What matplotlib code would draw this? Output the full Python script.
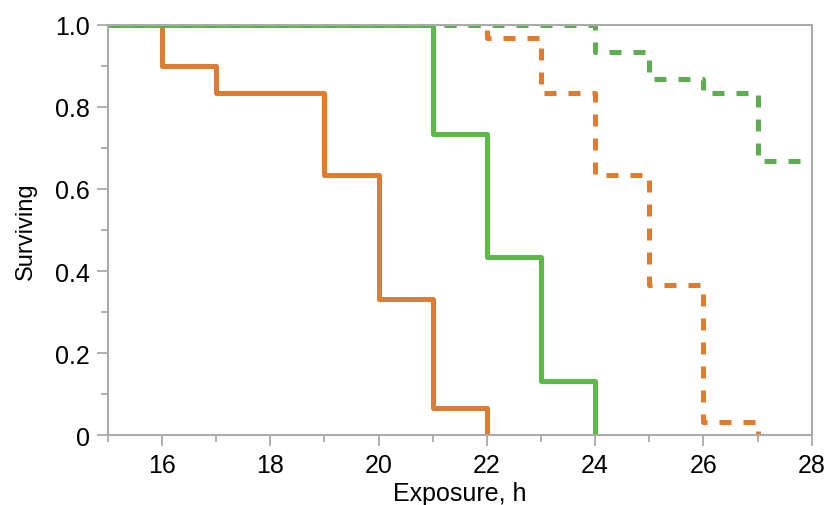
import numpy as np
import matplotlib.pyplot as plt
from matplotlib.ticker import MultipleLocator, FixedLocator

plt.rcParams['font.family'] = ['Liberation Sans', 'DejaVu Sans']

# survival curves (step, post): times where value changes, values after each time
orange_t = [15, 16, 17, 19, 20, 21, 22]
orange_s = [1.0, 0.9, 0.833, 0.633, 0.333, 0.067, 0.0]

green_t = [15, 21, 22, 23, 24]
green_s = [1.0, 0.733, 0.433, 0.133, 0.0]

orange_dash_t = [15, 22, 23, 24, 25, 26, 27]
orange_dash_s = [1.0, 0.967, 0.833, 0.633, 0.367, 0.033, 0.0]

green_dash_t = [15, 24, 25, 26, 27, 28]
green_dash_s = [1.0, 0.933, 0.867, 0.833, 0.667, 0.667]

orange = '#DE7D31'
green = '#5CBA47'
green2 = '#5DAE50'
gray = '#AAAAAA'

fig = plt.figure(figsize=(8.3, 5.06), dpi=100)
ax = fig.add_axes([0.130, 0.138, 0.848, 0.811])

lw = 3.6
ax.step(orange_t, orange_s, where='post', color=orange, lw=lw)
ax.step(orange_dash_t, orange_dash_s, where='post', color=orange, lw=lw,
        dashes=(2.4, 2.4))
ax.step(green_t, green_s, where='post', color=green, lw=lw)
ax.step(green_dash_t, green_dash_s, where='post', color=green2, lw=lw,
        dashes=(2.4, 2.4))

ax.set_xlim(15, 28)
ax.set_ylim(0, 1.0)
ax.xaxis.set_major_locator(FixedLocator([16, 18, 20, 22, 24, 26, 28]))
ax.xaxis.set_minor_locator(FixedLocator([15, 17, 19, 21, 23, 25, 27]))
ax.yaxis.set_minor_locator(MultipleLocator(0.1))
ax.set_yticks([0, 0.2, 0.4, 0.6, 0.8, 1.0])
ax.set_yticklabels(['0', '0.2', '0.4', '0.6', '0.8', '1.0'])

for s in ax.spines.values():
    s.set_color(gray)
    s.set_linewidth(1.5)
ax.tick_params(which='major', direction='out', length=8, width=1.3, color=gray,
               labelsize=18, pad=5)
ax.tick_params(which='minor', direction='out', length=5, width=1.3, color=gray)

ax.set_xlabel('Exposure, h', fontsize=18, labelpad=3)
ax.set_ylabel('Surviving', fontsize=17, labelpad=13)

fig.savefig('out.png', dpi=100)
